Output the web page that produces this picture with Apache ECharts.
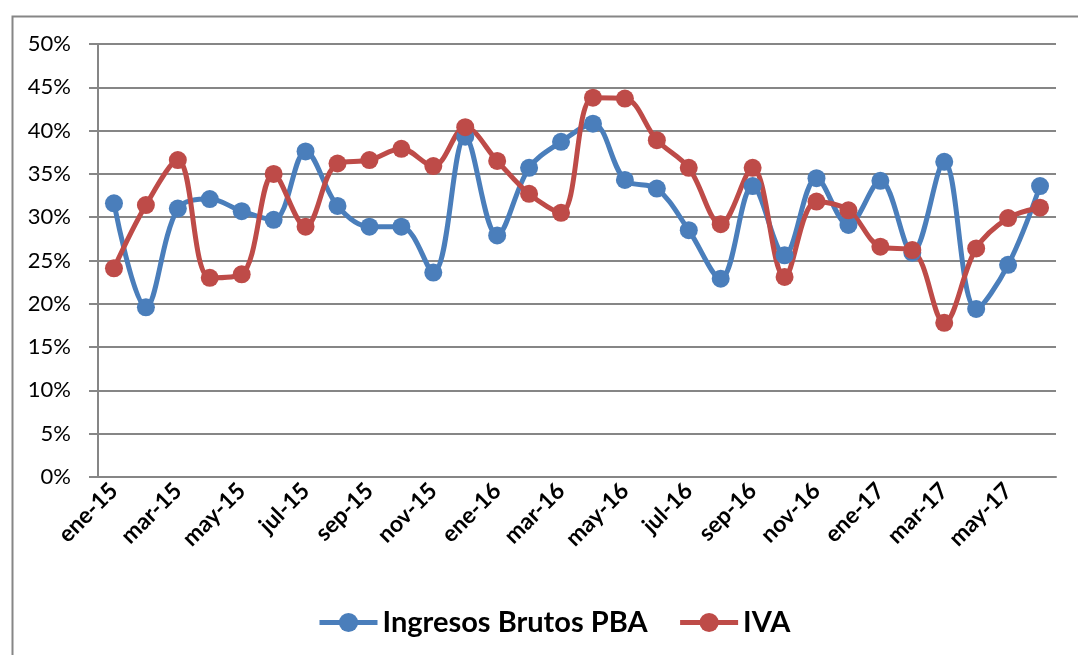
<!DOCTYPE html>
<html>
<head>
<meta charset="utf-8">
<script src="https://cdn.jsdelivr.net/npm/echarts@6/dist/echarts.min.js"></script>
<style>
	html, body { margin: 0; padding: 0; background: #fff; }
	#chart { width: 1078px; height: 655px; }
</style>
</head>
<body>
<div id="chart"></div>
<script>
var months = [
	"ene-15", "feb-15", "mar-15", "abr-15", "may-15", "jun-15", "jul-15", "ago-15", "sep-15", "oct-15", "nov-15", "dic-15",
	"ene-16", "feb-16", "mar-16", "abr-16", "may-16", "jun-16", "jul-16", "ago-16", "sep-16", "oct-16", "nov-16", "dic-16",
	"ene-17", "feb-17", "mar-17", "abr-17", "may-17", "jun-17"
];
var ingresosBrutos = [
	31.6, 19.6, 31.0, 32.1, 30.7, 29.7, 37.6, 31.3, 28.9, 28.9, 23.6, 39.3,
	27.9, 35.7, 38.7, 40.8, 34.3, 33.3, 28.5, 22.9, 33.6, 25.6, 34.5, 29.1,
	34.2, 25.9, 36.4, 19.4, 24.5, 33.6
];
var iva = [
	24.1, 31.4, 36.6, 23.0, 23.4, 35.0, 28.9, 36.2, 36.6, 37.9, 35.9, 40.4,
	36.5, 32.7, 30.5, 43.8, 43.7, 38.9, 35.7, 29.2, 35.7, 23.1, 31.8, 30.8,
	26.6, 26.2, 17.8, 26.4, 29.9, 31.1
];

var chart = echarts.init(document.getElementById("chart"));
var gridColor = "#868686";

var option = {
	animation: false,
	color: ["#4A7EBB", "#BE4B48"],
	textStyle: { fontFamily: "Lato" },
	graphic: [{
		type: "rect",
		left: 10,
		top: 14,
		shape: { width: 1100, height: 700 },
		style: { fill: "none", stroke: gridColor, lineWidth: 2 }
	}],
	grid: { left: 98, right: 22, top: 44, bottom: 178 },
	legend: {
		left: 312,
		top: 603,
		itemWidth: 58,
		itemHeight: 24,
		itemGap: 30,
		lineStyle: { width: 5 },
		textStyle: { fontFamily: "Lato", fontWeight: "bold", fontSize: 29, color: "#000" },
		data: ["Ingresos Brutos PBA", "IVA"]
	},
	xAxis: {
		type: "category",
		data: months,
		boundaryGap: true,
		axisLine: { lineStyle: { color: gridColor, width: 2 } },
		axisTick: { interval: 1, length: 8, lineStyle: { color: gridColor, width: 2 } },
		axisLabel: {
			interval: 1,
			rotate: 45,
			margin: 10,
			fontFamily: "Lato",
			fontWeight: "bold",
			fontSize: 23,
			color: "#000"
		}
	},
	yAxis: {
		type: "value",
		min: 0,
		max: 50,
		interval: 5,
		axisLine: { show: true, lineStyle: { color: gridColor, width: 2 } },
		axisTick: { show: true, length: 9, lineStyle: { color: gridColor, width: 2 } },
		splitLine: { lineStyle: { color: gridColor, width: 2 } },
		axisLabel: {
			formatter: "{value}%",
			margin: 27,
			fontFamily: "Lato",
			fontSize: 22,
			color: "#000"
		}
	},
	series: [
		{
			name: "Ingresos Brutos PBA",
			type: "line",
			data: ingresosBrutos,
			smooth: 0.35,
			symbol: "circle",
			symbolSize: 18,
			lineStyle: { width: 5 }
		},
		{
			name: "IVA",
			type: "line",
			data: iva,
			smooth: 0.35,
			symbol: "circle",
			symbolSize: 18,
			lineStyle: { width: 5 }
		}
	]
};

chart.setOption(option);
</script>
</body>
</html>
